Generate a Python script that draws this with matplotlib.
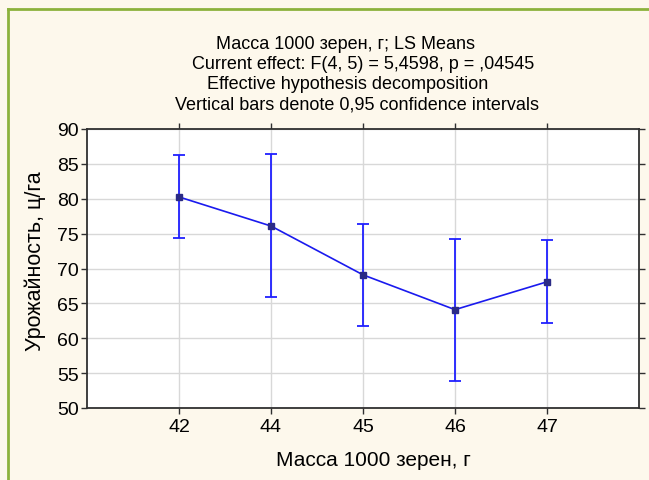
import matplotlib
matplotlib.use("Agg")
import matplotlib.pyplot as plt
from matplotlib.lines import Line2D

categories = ["42", "44", "45", "46", "47"]
means = [80.26, 76.09, 69.09, 64.1, 68.09]
upper = [86.26, 86.4, 76.33, 74.3, 74.07]
lower = [74.36, 65.87, 61.8, 53.8, 62.19]
yticks = [50, 55, 60, 65, 70, 75, 80, 85, 90]

title_lines = [
    "Масса 1000 зерен, г; LS Means",
    "Current effect: F(4, 5) = 5,4598, p = ,04545",
    "Effective hypothesis decomposition",
    "Vertical bars denote 0,95 confidence intervals",
]
title_centers_px = [345, 363, 348, 356.5]
title_y_px = [45, 65, 85, 105]

plt.rcParams['font.family'] = ['Liberation Sans', 'DejaVu Sans']

W, H = 649, 481
fig = plt.figure(figsize=(W / 100, H / 100), dpi=100)
bg = "#fdf8ec"
fig.patch.set_facecolor(bg)

# green frame (top and left)
green = "#8cb23c"
fig.add_artist(Line2D([8 / W, 1.0], [1 - 10 / H, 1 - 10 / H], color=green, lw=2.0, transform=fig.transFigure))
fig.add_artist(Line2D([8 / W, 8 / W], [0, 1 - 10 / H], color=green, lw=2.0, transform=fig.transFigure))

left, right, top, bottom = 87, 639, 130, 409
ax = fig.add_axes([left / W, 1 - bottom / H, (right - left) / W, (bottom - top) / H])
ax.set_facecolor("white")

x = list(range(len(categories)))
yerr_low = [m - l for m, l in zip(means, lower)]
yerr_up = [u - m for m, u in zip(means, upper)]
ax.errorbar(x, means, yerr=[yerr_low, yerr_up], fmt='none', ecolor="#2020ff",
            elinewidth=1.3, capsize=4.5, capthick=1.3, zorder=3)
ax.plot(x, means, color="#1a1aee", lw=1.2, zorder=4)
ax.plot(x, means, ls='none', marker='s', ms=5, color="#2b2b86", zorder=5)

ax.set_xlim(-1, 5)
ax.set_ylim(50, 90)
ax.set_xticks(x)
ax.set_xticklabels(categories)
ax.set_yticks(yticks)
ax.grid(True, color="#d8d8d8", lw=1.0, zorder=0)
ax.set_axisbelow(True)

for s in ax.spines.values():
    s.set_color("#303030")
    s.set_linewidth(1.3)

ax.tick_params(axis='both', labelsize=14, colors="#303030", labelcolor="black", length=4, width=1.0)
ax.tick_params(axis='y', direction='out', pad=2, right=True)
ax.tick_params(axis='x', direction='out', pad=3, top=True)

for t, cx, cy in zip(title_lines, title_centers_px, title_y_px):
    fig.text(cx / W, 1 - cy / H, t, ha='center', va='center', fontsize=13)

fig.text(373 / W, 1 - 460 / H, "Масса 1000 зерен, г", ha='center', va='center', fontsize=15)
fig.text(35 / W, 1 - 261 / H, "Урожайность, ц/га", ha='center', va='center', fontsize=15.5, rotation=90)

fig.savefig("out.png", dpi=100, facecolor=bg)
